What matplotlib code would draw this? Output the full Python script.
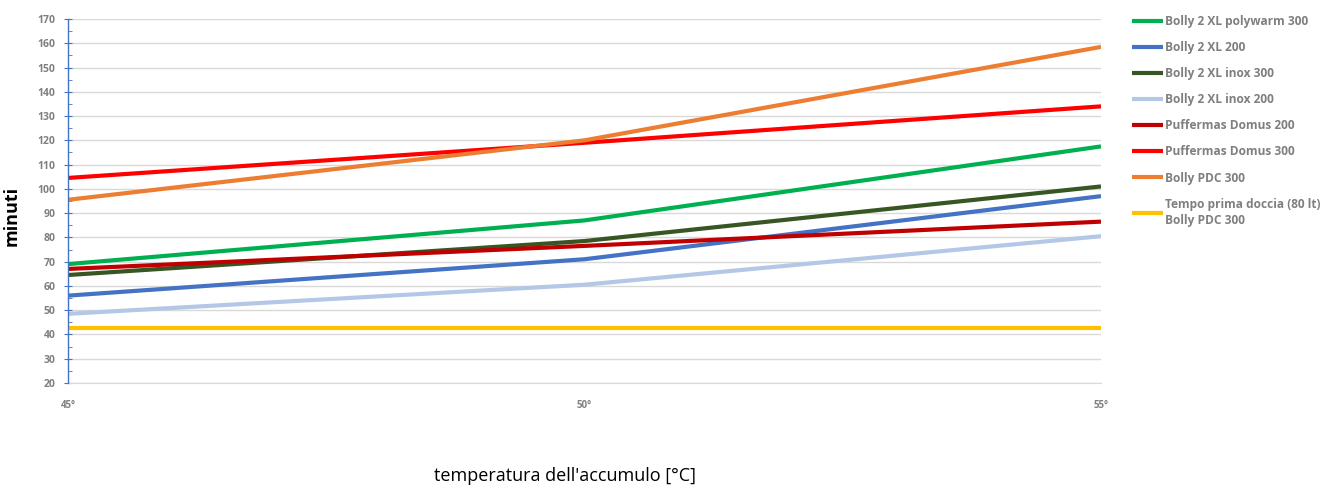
import numpy as np
import matplotlib.pyplot as plt
from matplotlib.ticker import MultipleLocator

plt.rcParams['font.family'] = ['Open Sans', 'DejaVu Sans']

# dati
temperature = [45, 50, 55]
tick_labels = ['45°', '50°', '55°']

polywarm_300 = [69, 87, 117.5]
xl_200 = [56, 71, 97]
inox_300 = [64.5, 78.5, 101]
inox_200 = [48.5, 60.5, 80.5]
domus_200 = [67, 76.5, 86.5]
domus_300 = [104.5, 119, 134]
pdc_300 = [95.5, 120, 158.5]
prima_doccia = [42.7, 42.7, 42.7]

serie = [
    ('Bolly 2 XL polywarm 300', polywarm_300, '#00B050'),
    ('Bolly 2 XL 200', xl_200, '#4472C4'),
    ('Bolly 2 XL inox 300', inox_300, '#375623'),
    ('Bolly 2 XL inox 200', inox_200, '#B4C7E7'),
    ('Puffermas Domus 200', domus_200, '#C00000'),
    ('Puffermas Domus 300', domus_300, '#FF0000'),
    ('Bolly PDC 300', pdc_300, '#ED7D31'),
    ('Tempo prima doccia (80 lt)\nBolly PDC 300', prima_doccia, '#FFC000'),
]

fig = plt.figure(figsize=(13.3, 4.86), dpi=100)
W, H = 1330, 486
ax = fig.add_axes([68 / W, (H - 383) / H, (1101 - 68) / W, (383 - 19) / H])

for nome, valori, colore in serie:
    ax.plot(temperature, valori, color=colore, lw=3, label=nome, solid_capstyle='butt')

ax.set_xlim(45, 55)
ax.set_ylim(20, 170)
ax.yaxis.set_major_locator(MultipleLocator(10))
ax.yaxis.set_minor_locator(MultipleLocator(5))
ax.grid(axis='y', color='#D9D9D9', lw=1)
ax.set_axisbelow(True)

for s in ['top', 'right']:
    ax.spines[s].set_visible(False)
ax.spines['bottom'].set_color('#D9D9D9')
ax.spines['left'].set_color('#4472C4')
ax.spines['left'].set_linewidth(1)
ax.spines['left'].set_zorder(3)

ax.tick_params(axis='y', which='major', direction='inout', length=6, color='#4472C4',
               labelsize=7.5, labelcolor='#7F7F7F', pad=6)
ax.tick_params(axis='y', which='minor', direction='in', length=3, color='#4472C4')
for t in ax.get_yticklabels():
    t.set_fontweight('bold')

ax.set_xticks(temperature)
ax.set_xticklabels(tick_labels, fontsize=7, color='#7F7F7F', fontweight='bold')
ax.tick_params(axis='x', length=0, pad=12)

ax.set_ylabel('minuti', fontsize=13, fontweight='bold', color='black')
ax.yaxis.set_label_coords(-0.046, 0.46)
ax.set_xlabel("temperatura dell'accumulo [°C]", fontsize=13, color='black', va='center')
ax.xaxis.set_label_coords(0.481, -0.255)

leg = ax.legend(loc='upper left', bbox_to_anchor=(1121 / W, (H - 4) / H),
                bbox_transform=fig.transFigure, frameon=False,
                handlelength=2.6, handletextpad=0.15, labelspacing=1.1,
                prop={'size': 8.6, 'weight': 'bold'})
for t in leg.get_texts():
    t.set_color('#7F7F7F')
    t.set_linespacing(1.3)

fig.savefig('out.png', dpi=100)
